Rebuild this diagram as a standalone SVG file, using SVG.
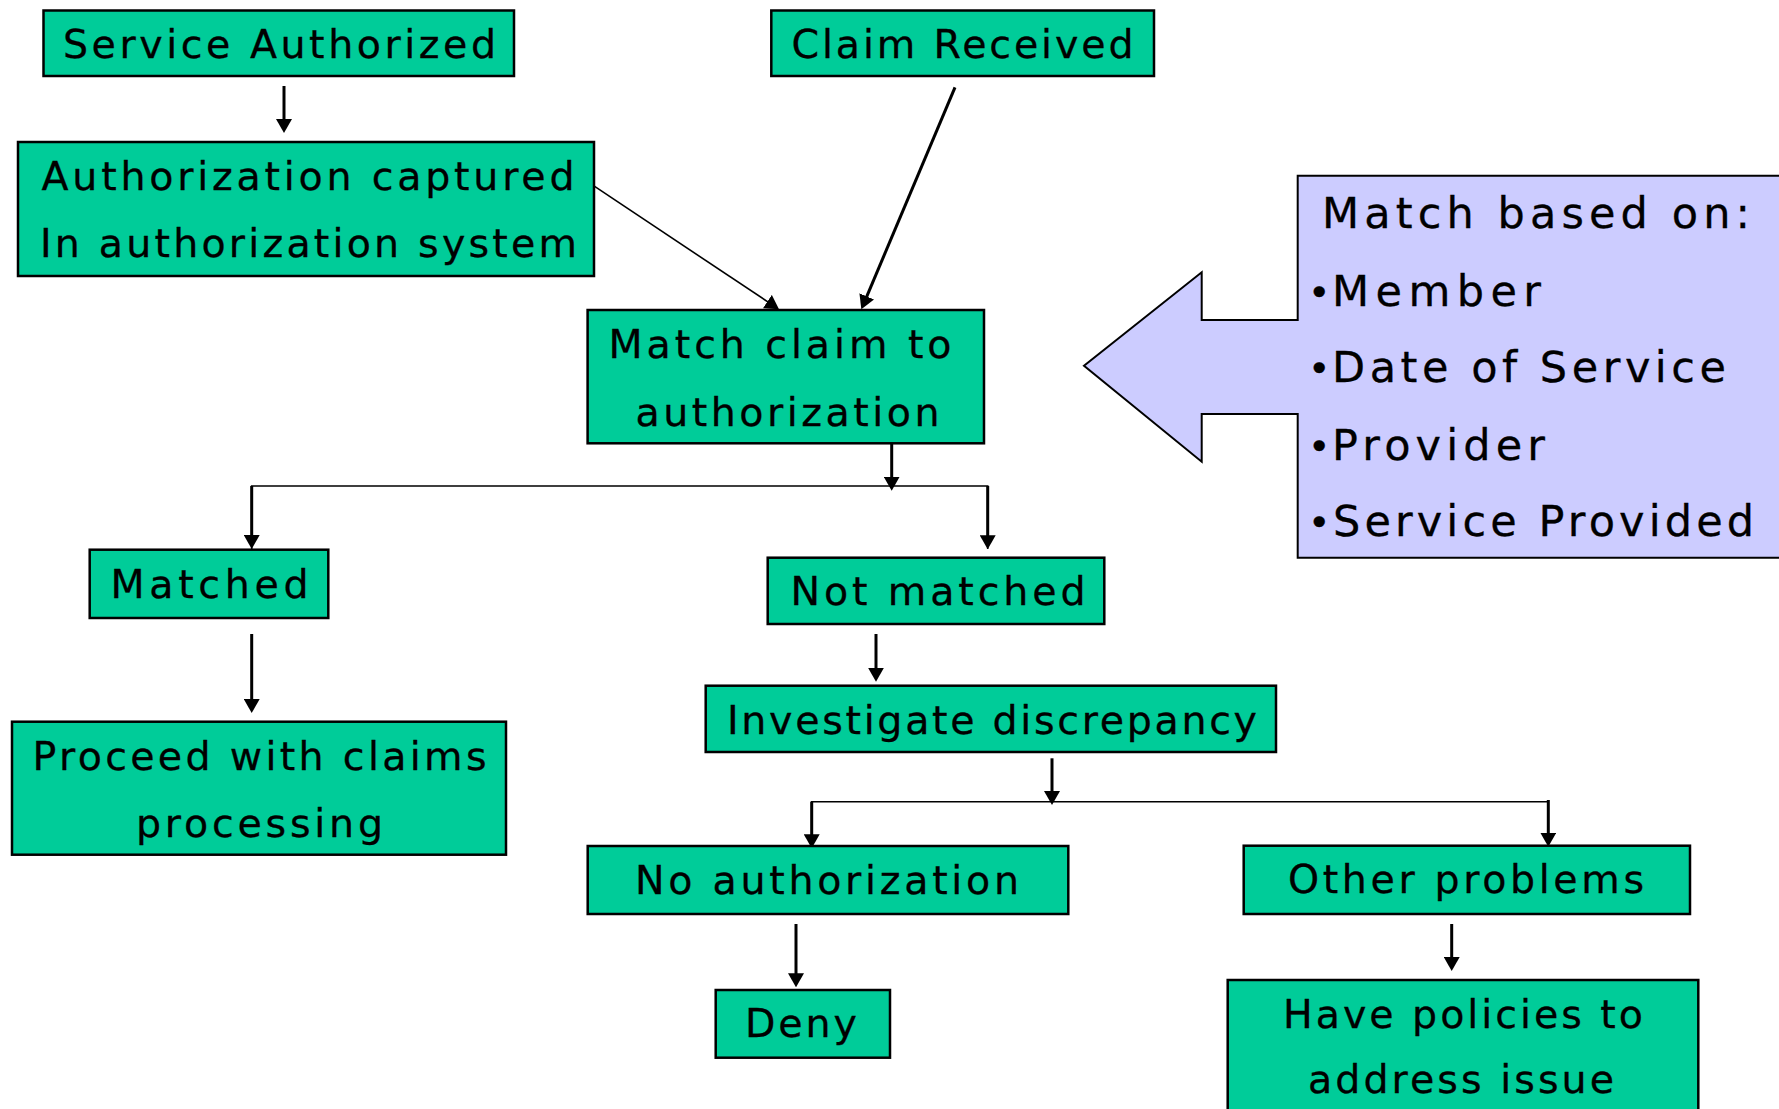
<svg xmlns="http://www.w3.org/2000/svg" width="1779" height="1109" viewBox="0 0 1779 1109">
<defs>
<marker id="ah" viewBox="0 0 14 16" refX="10" refY="8" markerWidth="14" markerHeight="16" markerUnits="userSpaceOnUse" orient="auto">
<path d="M0,0 L14,8 L0,16 Z" fill="#000"/>
</marker>
<style>
.box{fill:#00CC99;stroke:#000;stroke-width:2.5}
.t{font-family:"DejaVu Sans","Verdana",sans-serif;font-size:39.5px;fill:#000;stroke:#000;stroke-width:0.3}
.ct{font-family:"DejaVu Sans","Verdana",sans-serif;font-size:43px;fill:#000;stroke:#000;stroke-width:0.3}
.c{fill:none;stroke:#000;stroke-width:3}
.thin{fill:none;stroke:#000;stroke-width:1.6}
.callout{fill:#CCCCFF;stroke:#000;stroke-width:2}
</style>
</defs>
<rect width="1779" height="1109" fill="#fff"/>

<g id="connectors">
<line class="c" x1="284" y1="86" x2="284" y2="129" marker-end="url(#ah)"/>
<line class="thin" x1="589" y1="182.7" x2="775.7" y2="307.1" marker-end="url(#ah)"/>
<line class="c" x1="955" y1="87.3" x2="862.9" y2="305.6" marker-end="url(#ah)"/>
<line class="c" x1="891.7" y1="443.3" x2="891.7" y2="486.7" marker-end="url(#ah)"/>
<polyline class="thin" points="251.7,549 251.7,486 987.7,486 987.7,549" stroke-width="2"/>
<line class="c" x1="251.7" y1="486" x2="251.7" y2="545" marker-end="url(#ah)"/>
<line class="c" x1="987.7" y1="486" x2="987.7" y2="545.3" marker-end="url(#ah)"/>
<line class="c" x1="251.7" y1="634" x2="251.7" y2="709" marker-end="url(#ah)"/>
<line class="c" x1="876" y1="634" x2="876" y2="677.7" marker-end="url(#ah)"/>
<line class="c" x1="1052" y1="758.3" x2="1052" y2="801" marker-end="url(#ah)"/>
<polyline class="thin" points="811.7,848 811.7,801.7 1548.3,801.7" stroke-width="2"/>
<line class="c" x1="811.7" y1="801.7" x2="811.7" y2="844.3" marker-end="url(#ah)"/>
<line class="c" x1="1548.3" y1="800" x2="1548.3" y2="842.7" marker-end="url(#ah)"/>
<line class="c" x1="796" y1="924" x2="796" y2="983.3" marker-end="url(#ah)"/>
<line class="c" x1="1451.7" y1="924" x2="1451.7" y2="967" marker-end="url(#ah)"/>
</g>

<g id="service-authorized">
<rect class="box" x="43.5" y="10.5" width="470.5" height="65.5"/>
<text class="t" x="63" y="58.3" textLength="433" lengthAdjust="spacing">Service Authorized</text>
</g>
<g id="claim-received">
<rect class="box" x="771.3" y="10.5" width="382.7" height="65.5"/>
<text class="t" x="791.5" y="58.3" textLength="342" lengthAdjust="spacing">Claim Received</text>
</g>
<g id="authorization-captured">
<rect class="box" x="18" y="142" width="576" height="134"/>
<text class="t" x="41.5" y="190" textLength="533" lengthAdjust="spacing">Authorization captured</text>
<text class="t" x="40" y="257.3" textLength="537" lengthAdjust="spacing">In authorization system</text>
</g>
<g id="match-claim">
<rect class="box" x="587.6" y="310" width="396.4" height="133.3"/>
<text class="t" x="608.5" y="358.3" textLength="343" lengthAdjust="spacing">Match claim to</text>
<text class="t" x="635.5" y="426" textLength="304" lengthAdjust="spacing">authorization</text>
</g>
<g id="match-based-on">
<path class="callout" d="M1297.7,175.7 L1782,175.7 L1782,557.7 L1297.7,557.7 L1297.7,414 L1201.7,414 L1201.7,461.7 L1084,365.7 L1201.7,272.3 L1201.7,320 L1297.7,320 Z"/>
<text class="ct" x="1322" y="228.3" textLength="428" lengthAdjust="spacing">Match based on:</text>
<text class="ct" y="305.7"><tspan x="1308" font-size="38">•</tspan><tspan x="1332" textLength="209" lengthAdjust="spacing">Member</tspan></text>
<text class="ct" y="381.7"><tspan x="1308" font-size="38">•</tspan><tspan x="1332" textLength="394" lengthAdjust="spacing">Date of Service</tspan></text>
<text class="ct" y="460"><tspan x="1308" font-size="38">•</tspan><tspan x="1332" textLength="213" lengthAdjust="spacing">Provider</tspan></text>
<text class="ct" y="536"><tspan x="1308" font-size="38">•</tspan><tspan x="1333" textLength="421" lengthAdjust="spacing">Service Provided</tspan></text>
</g>
<g id="matched">
<rect class="box" x="89.7" y="549.7" width="238.6" height="68.3"/>
<text class="t" x="110.5" y="598.3" textLength="198" lengthAdjust="spacing">Matched</text>
</g>
<g id="not-matched">
<rect class="box" x="767.7" y="557.7" width="336.6" height="66.3"/>
<text class="t" x="790.5" y="605" textLength="295" lengthAdjust="spacing">Not matched</text>
</g>
<g id="proceed">
<rect class="box" x="12" y="721.7" width="494" height="133"/>
<text class="t" x="32.5" y="770" textLength="454" lengthAdjust="spacing">Proceed with claims</text>
<text class="t" x="136" y="837" textLength="247" lengthAdjust="spacing">processing</text>
</g>
<g id="investigate">
<rect class="box" x="705.7" y="685.7" width="570.3" height="66.3"/>
<text class="t" x="727" y="734" textLength="530" lengthAdjust="spacing">Investigate discrepancy</text>
</g>
<g id="no-authorization">
<rect class="box" x="587.7" y="846" width="480.6" height="68"/>
<text class="t" x="635" y="893.5" textLength="384" lengthAdjust="spacing">No authorization</text>
</g>
<g id="other-problems">
<rect class="box" x="1243.7" y="845.7" width="446.3" height="68.3"/>
<text class="t" x="1288" y="893" textLength="356" lengthAdjust="spacing">Other problems</text>
</g>
<g id="deny">
<rect class="box" x="715.7" y="990" width="174.3" height="67.7"/>
<text class="t" x="745" y="1037.3" textLength="112" lengthAdjust="spacing">Deny</text>
</g>
<g id="have-policies">
<rect class="box" x="1227.7" y="980" width="470.6" height="140"/>
<text class="t" x="1283" y="1027.7" textLength="360" lengthAdjust="spacing">Have policies to</text>
<text class="t" x="1308" y="1093.3" textLength="306" lengthAdjust="spacing">address issue</text>
</g>
</svg>
